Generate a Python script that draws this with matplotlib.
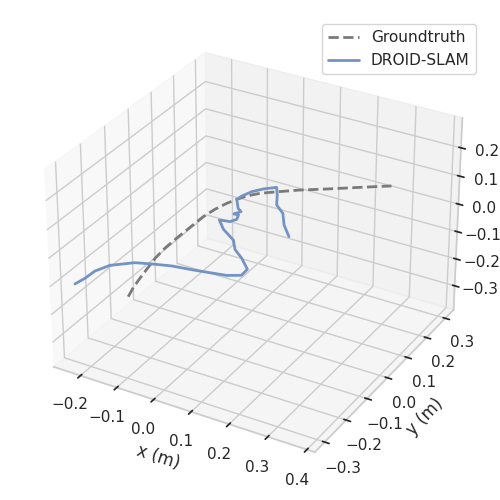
import numpy as np
import matplotlib
matplotlib.use("Agg")
import seaborn as sns
import matplotlib.pyplot as plt
from mpl_toolkits.mplot3d import Axes3D

# Groundtruth trajectory (metres)
gt_x = [-0.103, -0.108, -0.11, -0.112, -0.114, -0.112, -0.106, -0.102, -0.098, -0.089, -0.076, -0.062, -0.046, -0.019, 0.019, 0.069, 0.128, 0.205, 0.279]
gt_y = [-0.282, -0.252, -0.221, -0.185, -0.149, -0.109, -0.067, -0.014, 0.04, 0.078, 0.111, 0.134, 0.154, 0.169, 0.184, 0.207, 0.231, 0.253, 0.272]
gt_z = [-0.11, -0.10, -0.09, -0.08, -0.07, -0.06, -0.05, -0.045, -0.04, -0.035, -0.03, -0.025, -0.02, -0.01, 0.0, 0.01, 0.02, 0.04, 0.06]

# Estimated trajectory
est_x = [-0.225, -0.212, -0.203, -0.18, -0.13, -0.086, -0.042, 0.01, 0.088, 0.117, 0.115, 0.079, 0.045, 0.02, -0.026, -0.057, -0.031, -0.023, -0.03, -0.042, -0.033, -0.047, -0.072, -0.07, -0.06, -0.043, -0.019, 0.001, 0.024, 0.057, 0.087, 0.124]
est_y = [-0.316, -0.294, -0.266, -0.238, -0.21, -0.206, -0.191, -0.182, -0.165, -0.148, -0.118, -0.082, -0.055, -0.02, 0.012, 0.045, 0.051, 0.068, 0.088, 0.087, 0.105, 0.115, 0.151, 0.171, 0.202, 0.227, 0.25, 0.218, 0.175, 0.147, 0.1, 0.058]
est_z = [-0.09, -0.08, -0.07, -0.06, -0.05] + [-0.04] * 27

z_ticks = [-0.3, -0.2, -0.1, 0.0, 0.1, 0.2]

sns.set_theme(style="whitegrid", rc={"axes.grid": True})
fig = plt.figure(figsize=(5, 5), dpi=100)
ax = fig.add_axes([0.037, 0.037, 0.93, 0.93], projection='3d')

ax.plot(gt_x, gt_y, gt_z, '--', color='#7a7a7a', lw=2, label='Groundtruth')
ax.plot(est_x, est_y, est_z, color='#7393c4', lw=2, label='DROID-SLAM')

ax.set_xlim(-0.275, 0.42)
ax.set_ylim(-0.345, 0.345)
ax.set_zlim(-0.39, 0.305)
ax.set_zticks(z_ticks)
ax.set_xlabel('x (m)')
ax.set_ylabel('y (m)')
ax.legend(fontsize=11.1)

fig.savefig('out.png')
